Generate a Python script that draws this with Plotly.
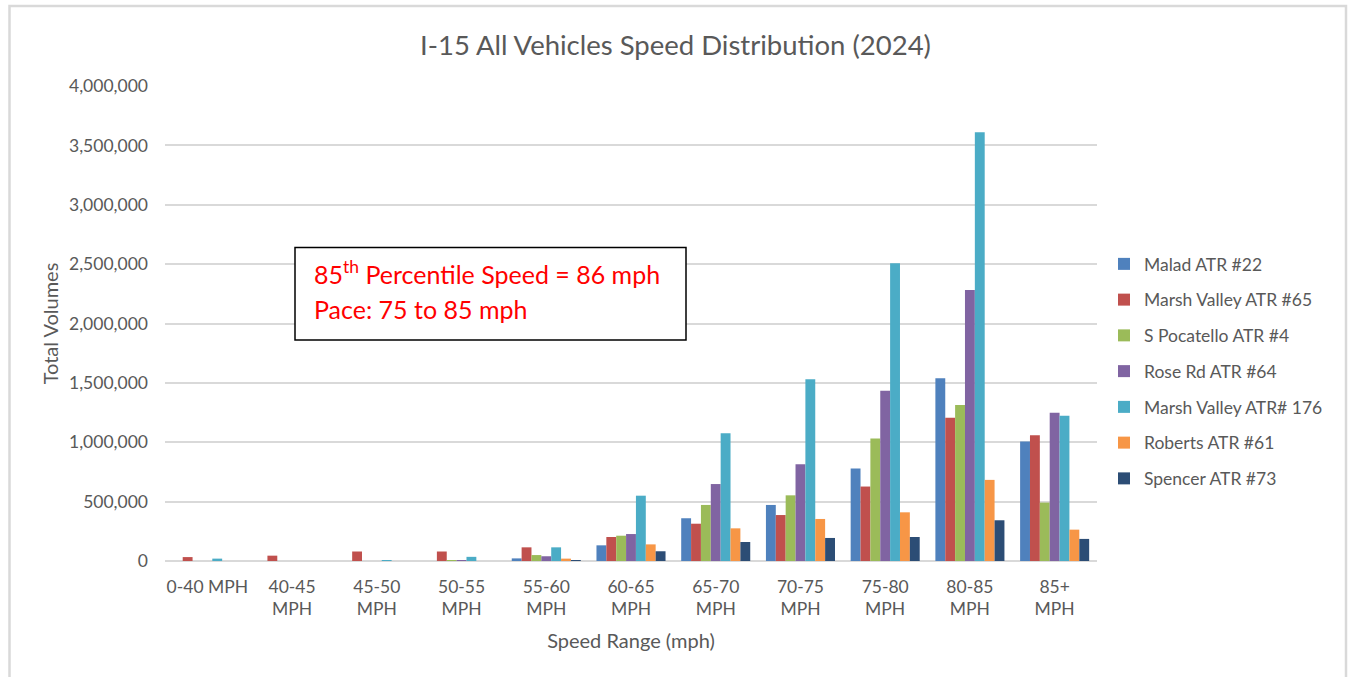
import plotly.graph_objects as go

# Speed bins (x categories, as shown on the axis)
speed_ranges = [
    "0-40 MPH", "40-45<br>MPH", "45-50<br>MPH", "50-55<br>MPH", "55-60<br>MPH",
    "60-65<br>MPH", "65-70<br>MPH", "70-75<br>MPH", "75-80<br>MPH", "80-85<br>MPH",
    "85+<br>MPH",
]

# Total vehicle volumes per ATR station
malad_22 = [0, 0, 0, 0, 22000, 132000, 360000, 472000, 780000, 1538000, 1006000]
marsh_valley_65 = [33000, 45000, 80000, 80000, 115000, 202000, 314000, 387000, 627000, 1206000, 1060000]
s_pocatello_4 = [0, 0, 0, 5000, 50000, 213000, 472000, 553000, 1032000, 1313000, 492000]
rose_rd_64 = [0, 0, 0, 5000, 40000, 227000, 648000, 814000, 1434000, 2283000, 1248000]
marsh_valley_176 = [20000, 0, 8000, 35000, 115000, 550000, 1075000, 1530000, 2508000, 3610000, 1223000]
roberts_61 = [0, 0, 0, 0, 20000, 140000, 275000, 354000, 410000, 683000, 264000]
spencer_73 = [0, 0, 0, 0, 5000, 82000, 160000, 194000, 202000, 343000, 186000]

station_names = [
    "Malad ATR #22", "Marsh Valley ATR #65", "S Pocatello ATR #4", "Rose Rd ATR #64",
    "Marsh Valley ATR# 176", "Roberts ATR #61", "Spencer ATR #73",
]
station_values = [malad_22, marsh_valley_65, s_pocatello_4, rose_rd_64,
                  marsh_valley_176, roberts_61, spencer_73]
station_colors = ["#4F81BD", "#C0504D", "#9BBB59", "#8064A2", "#4BACC6", "#F79646", "#2C4D75"]

y_ticks = [0, 500000, 1000000, 1500000, 2000000, 2500000, 3000000, 3500000, 4000000]

FONT = "Lato"
GREY = "#595959"

fig = go.Figure()
for name, vals, color in zip(station_names, station_values, station_colors):
    fig.add_trace(go.Bar(
        x=speed_ranges, y=vals, name=name, legendgroup=name,
        marker=dict(color=color, line=dict(width=0)),
        hoverinfo="skip",
    ))

W, H = 1351, 677
L, R, T, B = 165, 254, 86, 116
pw, ph = W - L - R, H - T - B


def px_x(x):
    return (x - L) / pw


def px_y(y):
    return (H - B - y) / ph


fig.update_layout(
    width=W, height=H,
    margin=dict(l=L, r=R, t=T, b=B, autoexpand=False),
    paper_bgcolor="white", plot_bgcolor="white",
    barmode="group", bargap=0.185, bargroupgap=0,
    font=dict(family=FONT, color=GREY, size=17.5),
    title=dict(
        text="I-15 All Vehicles Speed Distribution (2024)",
        x=0.5, xanchor="center", y=1 - 45 / H, yanchor="middle",
        font=dict(family=FONT, size=27.5, color=GREY),
    ),
    xaxis=dict(
        categoryorder="array", categoryarray=speed_ranges,
        showgrid=False, showline=False, zeroline=False,
        tickfont=dict(size=17.5, color=GREY),
        ticklabelstandoff=13,
        title=dict(text="Speed Range (mph)", font=dict(size=20, color=GREY), standoff=15),
    ),
    yaxis=dict(
        range=[0, 4000000], tickvals=y_ticks, tickformat=",d",
        showgrid=True, gridcolor="#D9D9D9", gridwidth=2,
        zeroline=True, zerolinecolor="#D9D9D9", zerolinewidth=2,
        showline=False,
        tickfont=dict(size=17.5, color=GREY),
        ticklabelstandoff=16,
        title=dict(text="Total Volumes", font=dict(size=20, color=GREY), standoff=5),
    ),
    legend=dict(
        x=px_x(1104), xanchor="left", y=px_y(246), yanchor="top",
        font=dict(size=17.5, color=GREY),
        tracegroupgap=10, bgcolor="rgba(0,0,0,0)",
    ),
    showlegend=True,
)

# Outer chart frame
fig.add_shape(type="rect", xref="paper", yref="paper",
              x0=px_x(9.5), x1=px_x(1346), y0=px_y(685), y1=px_y(6),
              line=dict(color="#D9D9D9", width=2.5), fillcolor="rgba(0,0,0,0)", layer="below")

# Callout box with speed statistics
fig.add_shape(type="rect", xref="paper", yref="paper",
              x0=px_x(295), x1=px_x(686), y0=px_y(340), y1=px_y(247.5),
              line=dict(color="black", width=1.5), fillcolor="white", layer="above")
fig.add_annotation(xref="paper", yref="paper", x=px_x(312), y=px_y(272),
                   xanchor="left", yanchor="middle", showarrow=False,
                   text="85<sup>th</sup> Percentile Speed = 86 mph",
                   font=dict(family=FONT, size=25, color="#FF0000"))
fig.add_annotation(xref="paper", yref="paper", x=px_x(312), y=px_y(309),
                   xanchor="left", yanchor="middle", showarrow=False,
                   text="Pace: 75 to 85 mph",
                   font=dict(family=FONT, size=25, color="#FF0000"))

fig.write_html("out.html")
